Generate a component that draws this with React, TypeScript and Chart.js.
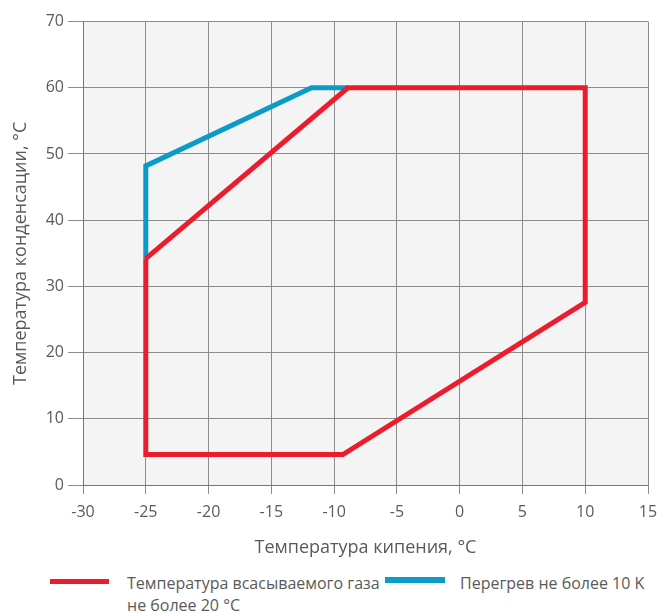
import React, { useEffect, useRef } from "react";
import { Chart, registerables } from "chart.js";

Chart.register(...registerables);

const redX = [-25, -8.9, 10, 10, -9.3, -25, -25];
const redY = [34.2, 60, 60, 27.6, 4.6, 4.6, 34.2];
const blueX = [-25, -25, -11.8, -8.9];
const blueY = [34.2, 48.2, 60, 60];

const redLabel = ["Температура всасываемого газа", "не более 20 °C"];
const blueLabel = "Перегрев не более 10 K";
const xTitle = "Температура кипения, °C";
const yTitle = "Температура конденсации, °C";

const RED = "#ec1c2e";
const BLUE = "#0a9bc8";
const TEXT = "#5a5a5a";
const FONT = "'Open Sans', sans-serif";

const bgPlugin = {
  id: "plotBg",
  beforeDraw(chart: any) {
    const { ctx, chartArea } = chart;
    ctx.save();
    ctx.fillStyle = "#f4f4f4";
    ctx.fillRect(chartArea.left, chartArea.top, chartArea.right - chartArea.left, chartArea.bottom - chartArea.top);
    ctx.restore();
  },
};

export default function App() {
  const ref = useRef<HTMLCanvasElement>(null);
  useEffect(() => {
    document.documentElement.style.overflow = "hidden";
    document.body.style.overflow = "hidden";
    document.body.style.margin = "0";
    if (!ref.current) return;
    const chart = new Chart(ref.current, {
      type: "line",
      data: {
        datasets: [
          {
            label: blueLabel,
            data: blueX.map((x, i) => ({ x, y: blueY[i] })),
            borderColor: BLUE,
            borderWidth: 5,
            pointRadius: 0,
            tension: 0,
            borderJoinStyle: "miter",
            order: 2,
          },
          {
            label: redLabel.join(" "),
            data: redX.map((x, i) => ({ x, y: redY[i] })),
            borderColor: RED,
            borderWidth: 5,
            pointRadius: 0,
            tension: 0,
            borderJoinStyle: "miter",
            order: 1,
          },
        ],
      },
      options: {
        animation: false,
        responsive: false,
        layout: { padding: { top: 12, right: 10, left: 0, bottom: 0 } },
        plugins: { legend: { display: false }, tooltip: { enabled: false } },
        scales: {
          x: {
            type: "linear",
            min: -30,
            max: 15,
            ticks: { stepSize: 5, color: TEXT, font: { family: FONT, size: 16 }, padding: 9 },
            grid: { color: "#8c8c8c", tickLength: 9, drawTicks: true },
            border: { color: "#777" },
            title: { display: true, text: xTitle, color: TEXT, font: { family: FONT, size: 18 }, padding: { top: 12, bottom: 5 } },
            afterFit: (s: any) => {
              s.height = 79;
              s.paddingRight = 0;
              s.paddingLeft = 0;
            },
          },
          y: {
            type: "linear",
            min: 0,
            max: 70,
            ticks: { stepSize: 10, color: TEXT, font: { family: FONT, size: 16 }, padding: 4 },
            grid: { color: "#8c8c8c", tickLength: 15 },
            border: { color: "#777" },
            title: { display: true, text: yTitle, color: TEXT, font: { family: FONT, size: 18 }, padding: { top: 2, bottom: 4 } },
            afterFit: (s: any) => {
              s.width = 75;
            },
          },
        },
      },
      plugins: [bgPlugin],
    });
    return () => chart.destroy();
  }, []);

  const itemText: React.CSSProperties = {
    position: "absolute",
    fontFamily: FONT,
    fontSize: 16,
    lineHeight: "22px",
    color: TEXT,
    whiteSpace: "nowrap",
  };

  return (
    <div style={{ position: "relative", width: 658, height: 614, overflow: "hidden" }}>
      <canvas ref={ref} width={650} height={556} style={{ display: "block", position: "absolute", left: 8, top: 8 }} />
      <div style={{ position: "absolute", left: 50, top: 579, width: 59, height: 5, background: RED }} />
      <div style={{ ...itemText, left: 127, top: 572 }}>
        {redLabel[0]}
        <br />
        {redLabel[1]}
      </div>
      <div style={{ position: "absolute", left: 385, top: 577, width: 60, height: 6, background: BLUE }} />
      <div style={{ ...itemText, left: 460, top: 572 }}>{blueLabel}</div>
    </div>
  );
}
